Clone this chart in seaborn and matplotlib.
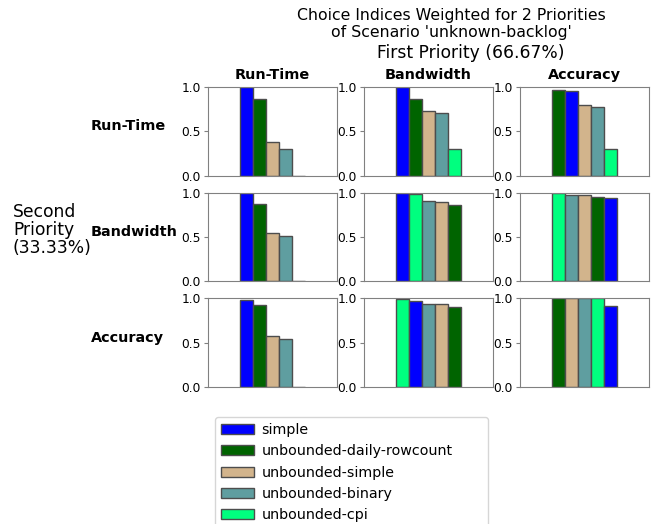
import pandas as pd
import matplotlib.pyplot as plt
import matplotlib.patches as mpatches
import seaborn as sns

sns.set_style("white")
plt.rcParams.update({"text.color": "black", "axes.labelcolor": "black",
                     "xtick.color": "black", "ytick.color": "black"})

# --------------------------------
# Data
# --------------------------------
priorities = ["Run-Time", "Bandwidth", "Accuracy"]
methods = ["simple", "unbounded-daily-rowcount", "unbounded-simple",
           "unbounded-binary", "unbounded-cpi"]
colors = ["blue", "#006400", "#D2B48C", "#5F9EA0", "#00FF7F"]

# rows = second priority, cols = first priority; values in methods order
runtime_runtime = [1.00, 0.87, 0.38, 0.30, 0.0]
runtime_bandwidth = [1.00, 0.87, 0.73, 0.71, 0.30]
runtime_accuracy = [0.95, 0.966, 0.80, 0.77, 0.30]
bandwidth_runtime = [1.00, 0.87, 0.55, 0.51, 0.0]
bandwidth_bandwidth = [1.00, 0.86, 0.898, 0.90, 0.99]
bandwidth_accuracy = [0.94, 0.955, 0.968, 0.97, 1.00]
accuracy_runtime = [0.975, 0.92, 0.58, 0.54, 0.0]
accuracy_bandwidth = [0.97, 0.905, 0.93, 0.94, 0.995]
accuracy_accuracy = [0.91, 1.00, 1.00, 1.00, 1.00]

grid = [
    [runtime_runtime, runtime_bandwidth, runtime_accuracy],
    [bandwidth_runtime, bandwidth_bandwidth, bandwidth_accuracy],
    [accuracy_runtime, accuracy_bandwidth, accuracy_accuracy],
]

palette = dict(zip(methods, colors))

# --------------------------------
# Figure
# --------------------------------
fig, axes = plt.subplots(3, 3, figsize=(6.52, 5.24), dpi=100)
fig.subplots_adjust(left=208/652, right=649/652, top=1-87/524,
                    bottom=1-387/524, wspace=0.21, hspace=0.19)

for r in range(3):
    for c in range(3):
        ax = axes[r][c]
        df = pd.DataFrame({"method": methods, "value": grid[r][c], "x": "all"})
        order = df.sort_values("value", ascending=False, kind="stable")["method"].tolist()
        sns.barplot(data=df, x="x", y="value", hue="method", hue_order=order,
                    palette=palette, saturation=1, width=0.5,
                    edgecolor="#4d4d4d", linewidth=1.0, ax=ax, legend=False)
        ax.set_ylim(0, 1)
        ax.set_xlim(-0.5, 0.5)
        ax.set_yticks([0.0, 0.5, 1.0])
        ax.set_yticklabels(["0.0", "0.5", "1.0"], fontsize=8.8)
        ax.set_xticks([])
        ax.set_xlabel("")
        ax.set_ylabel("")
        ax.tick_params(axis="y", length=3, color="#808080", left=True, pad=2)
        for s in ax.spines.values():
            s.set_color("#808080")
        if r == 0:
            ax.set_title(priorities[c], fontweight="bold", fontsize=10.4, pad=6)

# row labels
for r in range(3):
    pos = axes[r][0].get_position()
    yc = (pos.y0 + pos.y1) / 2 + 5/524
    fig.text(91/652, yc, priorities[r], fontweight="bold", fontsize=10.4,
             ha="left", va="center")

fig.text(13/652, 1-230/524, "Second\nPriority\n(33.33%)", fontsize=12.3,
         ha="left", va="center", linespacing=1.0)
fig.text(471/652, 1-53/524, "First Priority (66.67%)", fontsize=12.3,
         ha="center", va="center")
fig.text(451/652, 1-24/524,
         "Choice Indices Weighted for 2 Priorities\nof Scenario 'unknown-backlog'",
         fontsize=11.3, ha="center", va="center", linespacing=1.15)

handles = [mpatches.Patch(facecolor=col, edgecolor="#4d4d4d", label=m)
           for m, col in zip(methods, colors)]
fig.legend(handles=handles, loc="upper left", borderaxespad=0, mode="expand",
           bbox_to_anchor=(215/652, 1-417/524, 273/652, 0), fontsize=10.3,
           handlelength=2.3, handletextpad=0.55, labelspacing=0.52,
           frameon=True)

plt.savefig("out.png", dpi=100)
